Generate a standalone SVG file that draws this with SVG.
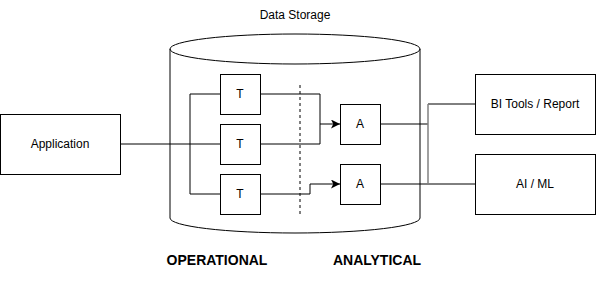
<svg xmlns="http://www.w3.org/2000/svg" width="596" height="284" viewBox="0 0 596 284">
  <style>
    .box { fill: #ffffff; stroke: #000000; stroke-width: 1; }
    .lbl { font-family: "Liberation Sans", Arial, sans-serif; font-size: 12px; fill: #000000; text-anchor: middle; dominant-baseline: central; }
    .hdr { font-family: "Liberation Sans", Arial, sans-serif; font-size: 14px; font-weight: bold; fill: #000000; text-anchor: middle; }
    .edge { fill: none; stroke: #000000; stroke-width: 1; }
  </style>
  <defs>
    <marker id="arrow" viewBox="0 0 10 10" refX="10" refY="5" markerWidth="9" markerHeight="9" markerUnits="userSpaceOnUse" orient="auto">
      <path d="M0,0 L10,5 L0,10 L2.5,5 Z" fill="#000000"/>
    </marker>
  </defs>
  <rect width="596" height="284" fill="#ffffff"/>

  <!-- storage cylinder -->
  <g id="data-storage">
    <path class="box" d="M170,49 A125,15 0 0 1 420,49 L420,218 A125,15 0 0 1 170,218 Z"/>
    <path class="edge" d="M170,49 A125,15 0 0 0 420,49"/>
    <text class="lbl" x="295" y="15">Data Storage</text>
  </g>

  <!-- connectors -->
  <g id="connectors">
    <path class="edge" d="M120,144 L220,144"/>
    <path class="edge" d="M220,94 L190,94 L190,194 L220,194"/>
    <path class="edge" d="M260,94 L320,94 L320,124 L340,124" marker-end="url(#arrow)"/>
    <path class="edge" d="M260,144 L320,144 L320,124"/>
    <path class="edge" d="M260,194 L310,194 L310,184 L340,184" marker-end="url(#arrow)"/>
    <line x1="300" y1="85" x2="300" y2="214" stroke="#000000" stroke-width="1" stroke-dasharray="3,3"/>
    <path class="edge" d="M380,124 L428,124"/>
    <path class="edge" d="M380,184 L475,184"/>
    <path class="edge" d="M428,104 L475,104"/>
    <line x1="428" y1="104" x2="428" y2="184" stroke="#808080" stroke-width="1.5"/>
  </g>

  <g id="application">
    <rect class="box" x="0.5" y="114.5" width="120" height="60"/>
    <text class="lbl" x="60" y="144">Application</text>
  </g>

  <g id="t1">
    <rect class="box" x="220.5" y="74.5" width="40" height="40"/>
    <text class="lbl" x="240" y="94">T</text>
  </g>
  <g id="t2">
    <rect class="box" x="220.5" y="124.5" width="40" height="40"/>
    <text class="lbl" x="240" y="144">T</text>
  </g>
  <g id="t3">
    <rect class="box" x="220.5" y="174.5" width="40" height="40"/>
    <text class="lbl" x="240" y="194">T</text>
  </g>

  <g id="a1">
    <rect class="box" x="340.5" y="104.5" width="40" height="40"/>
    <text class="lbl" x="360" y="124">A</text>
  </g>
  <g id="a2">
    <rect class="box" x="340.5" y="164.5" width="40" height="40"/>
    <text class="lbl" x="360" y="184">A</text>
  </g>

  <g id="bi-tools">
    <rect class="box" x="475.5" y="74.5" width="120" height="60"/>
    <text class="lbl" x="535" y="104">BI Tools / Report</text>
  </g>
  <g id="ai-ml">
    <rect class="box" x="475.5" y="154.5" width="120" height="60"/>
    <text class="lbl" x="535" y="184">AI / ML</text>
  </g>

  <g id="section-labels">
    <text class="hdr" x="217" y="265">OPERATIONAL</text>
    <text class="hdr" x="377" y="265">ANALYTICAL</text>
  </g>
</svg>
